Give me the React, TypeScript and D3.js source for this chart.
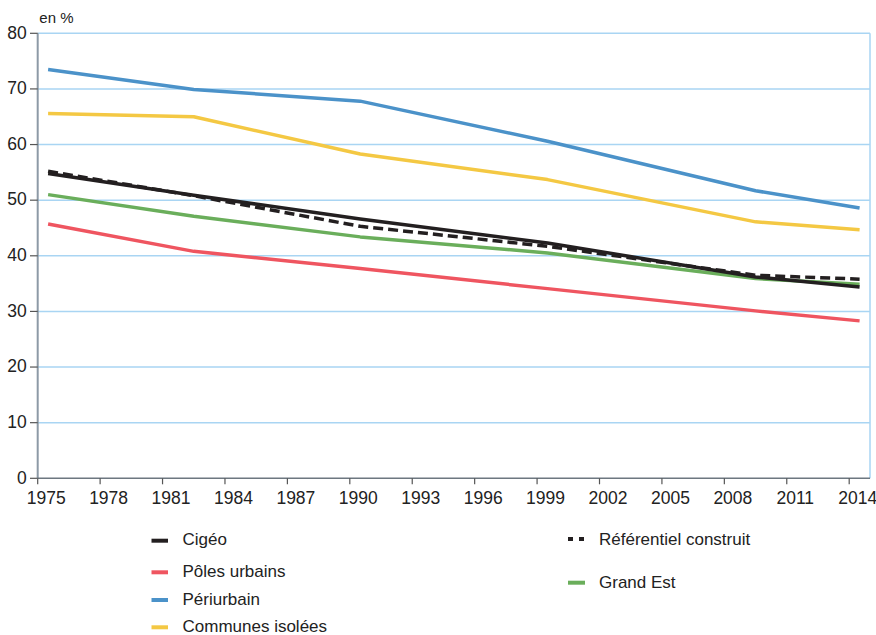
import React from "react";
import * as d3 from "d3";

const years = [1975.5, 1982.5, 1990.5, 1999.5, 2009.5, 2014.5];
const cigeo = [54.8, 50.9, 46.6, 42.3, 36.2, 34.4];
const referentiel = [55.2, 50.8, 45.3, 41.7, 36.5, 35.8];
const polesUrbains = [45.7, 40.8, 37.7, 34.1, 30.1, 28.3];
const periurbain = [73.5, 69.9, 67.8, 60.6, 51.7, 48.6];
const communesIsolees = [65.6, 65.0, 58.3, 53.7, 46.1, 44.7];
const grandEst = [51.0, 47.1, 43.4, 40.5, 35.9, 34.9];

const xTicks = [1975, 1978, 1981, 1984, 1987, 1990, 1993, 1996, 1999, 2002, 2005, 2008, 2011, 2014];
const yTicks = [0, 10, 20, 30, 40, 50, 60, 70, 80];

const series = [
  { name: "Pôles urbains", values: polesUrbains, color: "#ef5560", dash: "" },
  { name: "Périurbain", values: periurbain, color: "#4b92c9", dash: "" },
  { name: "Communes isolées", values: communesIsolees, color: "#f4c843", dash: "" },
  { name: "Grand Est", values: grandEst, color: "#6aae5b", dash: "" },
  { name: "Cigéo", values: cigeo, color: "#231f20", dash: "" },
  { name: "Référentiel construit", values: referentiel, color: "#231f20", dash: "10,5" },
];

const legendLeft = [
  { name: "Cigéo", color: "#231f20", dash: "", y: 540.7, base: 545 },
  { name: "Pôles urbains", color: "#ef5560", dash: "", y: 572.3, base: 577.3 },
  { name: "Périurbain", color: "#4b92c9", dash: "", y: 600, base: 605 },
  { name: "Communes isolées", color: "#f4c843", dash: "", y: 627.3, base: 631.7 },
];
const legendRight = [
  { name: "Référentiel construit", color: "#231f20", dash: "5,6", y: 539, base: 545 },
  { name: "Grand Est", color: "#6aae5b", dash: "", y: 582.7, base: 588 },
];

export default function App() {
  const x = d3.scaleLinear().domain([1975, 2015]).range([37.7, 870]);
  const y = d3.scaleLinear().domain([0, 80]).range([478.3, 33.3]);
  const line = d3
    .line<number>()
    .x((_, i) => x(years[i]))
    .y((d) => y(d));

  const axisFont = "'Liberation Sans Narrow', 'Arial Narrow', 'Liberation Sans', sans-serif";
  const textFont = "'Liberation Sans', Arial, sans-serif";

  return (
    <svg
      width={876}
      height={635}
      style={{ position: "absolute", left: 0, top: 0, background: "#fff" }}
    >
      {/* grid */}
      {yTicks.filter((t) => t > 0).map((t) => (
        <line key={t} x1={x(1975)} x2={x(2015)} y1={y(t)} y2={y(t)} stroke="#a9d5f3" strokeWidth={1.5} />
      ))}
      <line x1={x(2015)} x2={x(2015)} y1={y(80)} y2={y(0)} stroke="#a9d5f3" strokeWidth={1.5} />

      {/* y axis */}
      <line x1={x(1975)} x2={x(1975)} y1={y(80)} y2={y(0)} stroke="#8d9aa6" strokeWidth={2} />
      {yTicks.map((t) => (
        <g key={t}>
          <line x1={30} x2={x(1975)} y1={y(t)} y2={y(t)} stroke="#555" strokeWidth={1.2} />
          <text x={26.7} y={y(t)} dy="0.3em" textAnchor="end" fontFamily={axisFont} fontSize={17.5} fill="#222">
            {t}
          </text>
        </g>
      ))}

      {/* x axis */}
      <line x1={x(1975)} x2={x(2015)} y1={y(0)} y2={y(0)} stroke="#6d7780" strokeWidth={1.5} />
      {xTicks.map((t) => (
        <g key={t}>
          <line x1={x(t)} x2={x(t)} y1={y(0)} y2={y(0) + 6} stroke="#555" strokeWidth={1.2} />
          <text x={x(t) + 8.5} y={503.5} textAnchor="middle" fontFamily={axisFont} fontSize={17.5} fill="#222">
            {t}
          </text>
        </g>
      ))}

      <text x={39.3} y={22.7} fontFamily={textFont} fontSize={15} fill="#222">
        en %
      </text>

      {/* series */}
      {series.map((s) => (
        <path
          key={s.name}
          d={line(s.values) || ""}
          fill="none"
          stroke={s.color}
          strokeWidth={3.5}
          strokeDasharray={s.dash || undefined}
          strokeLinejoin="round"
        />
      ))}

      {/* legend */}
      {legendLeft.map((l) => (
        <g key={l.name}>
          <line x1={151.5} x2={168} y1={l.y} y2={l.y} stroke={l.color} strokeWidth={4} strokeDasharray={l.dash || undefined} />
          <text x={182.5} y={l.base} fontFamily={textFont} fontSize={17} fill="#222">
            {l.name}
          </text>
        </g>
      ))}
      {legendRight.map((l) => (
        <g key={l.name}>
          <line x1={568} x2={585} y1={l.y} y2={l.y} stroke={l.color} strokeWidth={4} strokeDasharray={l.dash || undefined} />
          <text x={599} y={l.base} fontFamily={textFont} fontSize={17} fill="#222">
            {l.name}
          </text>
        </g>
      ))}
    </svg>
  );
}
